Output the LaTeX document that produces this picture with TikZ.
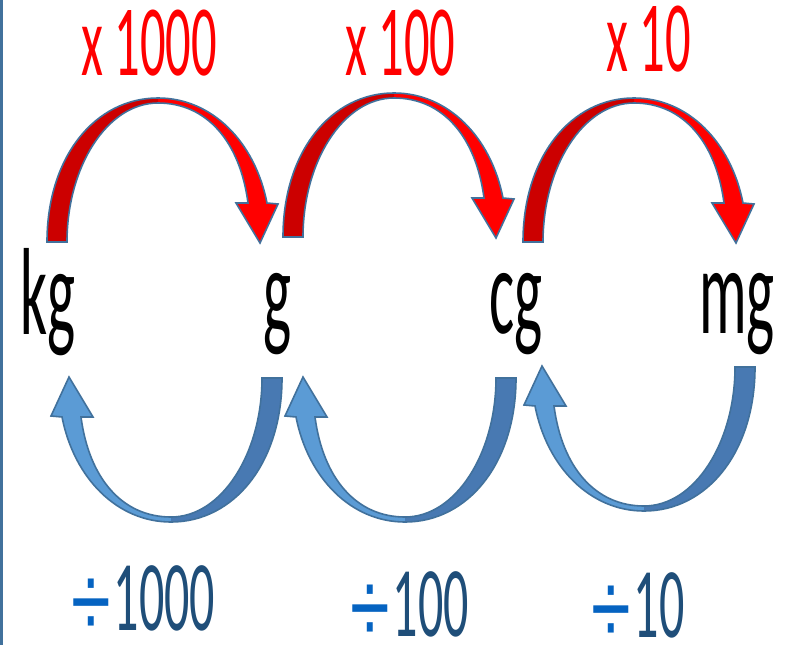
\documentclass[tikz,border=0pt]{standalone}
\usepackage{fontspec}
\setmainfont{Carlito}
\newfontfamily\divfont{Liberation Sans}
\definecolor{edge}{HTML}{41719C}
\definecolor{brightred}{HTML}{FF0000}
\definecolor{deepred}{HTML}{CC0000}
\definecolor{tailblue}{HTML}{4879B2}
\definecolor{headblue}{HTML}{5B9BD5}
\definecolor{divblue}{HTML}{0563C1}
\definecolor{numblue}{HTML}{1F4E79}
\newcommand{\arrowshape}[1]{\path[#1] (0,0) .. controls (0,-85) and (48,-144) .. (111,-144)
  .. controls (165,-144) and (208,-100) .. (220,-39) -- (231,-38) -- (213,1) -- (189,-39) -- (201,-39)
  .. controls (193,-100) and (160,-139) .. (111,-139) .. controls (60,-139) and (20,-75) .. (20,0) -- cycle;}
\newcommand{\cvarrow}[3]{%
  \begin{scope}[#1]
    \arrowshape{fill=#3}
    \begin{scope}
      \clip (-10,10) rectangle (111,-160);
      \arrowshape{fill=#2}
    \end{scope}
    \arrowshape{draw=edge,line width=1.6pt,line join=miter}
  \end{scope}}
\newcommand{\sx}[1]{\scalebox{0.48}[1]{#1}}
\newcommand{\sy}[1]{\scalebox{0.5}[1]{#1}}
\newcommand{\dv}{{\color{divblue}\raisebox{-7pt}{\scalebox{0.72}[1.05]{\divfont ÷}}}\hspace{3pt}}
\begin{document}
\begin{tikzpicture}[x=1pt,y=-1pt,
  unit/.style={font=\fontsize{124}{124}\selectfont, inner sep=0, anchor=base west, text=black},
  timeslbl/.style={font=\fontsize{101}{101}\selectfont, inner sep=0, anchor=base west, text=brightred},
  divlbl/.style={font=\fontsize{100}{100}\selectfont, inner sep=0, anchor=base west, text=numblue}]
\useasboundingbox (0,0) rectangle (794,645);
\fill[white] (0,0) rectangle (794,645);
\fill[edge] (0,0) rectangle (3,645);
% top arrows
\cvarrow{shift={(47,242)}}{deepred}{brightred}
\cvarrow{shift={(283,237)}}{deepred}{brightred}
\cvarrow{shift={(523,242)}}{deepred}{brightred}
% bottom arrows
\cvarrow{shift={(282,378)},rotate=180}{tailblue}{headblue}
\cvarrow{shift={(516,378)},rotate=180}{tailblue}{headblue}
\cvarrow{shift={(755,367)},rotate=180}{tailblue}{headblue}
% units
\node[unit] (kg) at (20,334) {\sx{kg}};
\node[unit] (g) at (263,333) {\sx{g}};
\node[unit] (cg) at (489,333) {\sx{cg}};
\node[unit] (mg) at (699,333) {\sx{mg}};
% multiply labels
\node[timeslbl] (t1000) at (81,75) {\sy{x 1000}};
\node[timeslbl] (t100) at (345,75) {\sy{x 100}};
\node[timeslbl] (t10) at (606,71) {\sy{x 10}};
% divide labels
\node[divlbl] (d1000) at (71,630) {\dv\sy{1000}};
\node[divlbl] (d100) at (350,636) {\dv\sy{100}};
\node[divlbl] (d10) at (591,637) {\dv\sy{10}};
\end{tikzpicture}
\end{document}
